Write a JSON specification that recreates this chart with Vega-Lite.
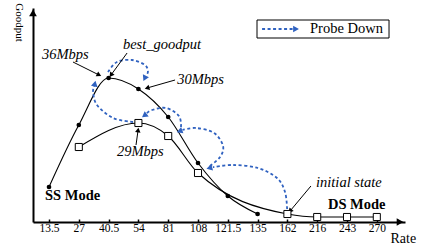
{
  "$schema": "https://vega.github.io/schema/vega-lite/v6.json",
  "width": 372,
  "height": 214,
  "autosize": {"type": "none"},
  "padding": {"left": 33, "top": 8, "right": 18, "bottom": 23},
  "background": "white",
  "config": {"view": {"stroke": null}, "font": "Liberation Serif, Times New Roman, serif"},
  "datasets": {
    "goodput": [
      {"mode": "SS", "pos": 0, "rate": "13.5", "goodput": 8.75},
      {"mode": "SS", "pos": 1, "rate": "27", "goodput": 24.25},
      {"mode": "SS", "pos": 2, "rate": "40.5", "goodput": 36},
      {"mode": "SS", "pos": 3, "rate": "54", "goodput": 33.25},
      {"mode": "SS", "pos": 4, "rate": "81", "goodput": 26.25},
      {"mode": "SS", "pos": 5, "rate": "108", "goodput": 14.75},
      {"mode": "SS", "pos": 6, "rate": "121.5", "goodput": 6.5},
      {"mode": "SS", "pos": 7, "rate": "135", "goodput": 2},
      {"mode": "DS", "pos": 1, "rate": "27", "goodput": 18.75},
      {"mode": "DS", "pos": 3, "rate": "54", "goodput": 24.75},
      {"mode": "DS", "pos": 4, "rate": "81", "goodput": 21.5},
      {"mode": "DS", "pos": 5, "rate": "108", "goodput": 12.25},
      {"mode": "DS", "pos": 8, "rate": "162", "goodput": 2},
      {"mode": "DS", "pos": 9, "rate": "216", "goodput": 1.25},
      {"mode": "DS", "pos": 10, "rate": "243", "goodput": 1.25},
      {"mode": "DS", "pos": 11, "rate": "270", "goodput": 1.25}
    ],
    "probe": [
      {"arc": "A", "seq": 0, "pos": 1.98, "goodput": 37.5},
      {"arc": "A", "seq": 1, "pos": 2.28, "goodput": 40},
      {"arc": "A", "seq": 2, "pos": 2.785, "goodput": 40.5},
      {"arc": "A", "seq": 3, "pos": 3.22, "goodput": 39.25},
      {"arc": "A", "seq": 4, "pos": 3.32, "goodput": 37.6},
      {"arc": "A", "seq": 5, "pos": 3.25, "goodput": 36.6},
      {"arc": "B", "seq": 0, "pos": 2.82, "goodput": 25},
      {"arc": "B", "seq": 1, "pos": 2.15, "goodput": 26},
      {"arc": "B", "seq": 2, "pos": 1.61, "goodput": 29.25},
      {"arc": "B", "seq": 3, "pos": 1.48, "goodput": 32.5},
      {"arc": "B", "seq": 4, "pos": 1.52, "goodput": 34},
      {"arc": "C", "seq": 0, "pos": 4.43, "goodput": 23.75},
      {"arc": "C", "seq": 1, "pos": 4.36, "goodput": 26.5},
      {"arc": "C", "seq": 2, "pos": 3.93, "goodput": 28.5},
      {"arc": "C", "seq": 3, "pos": 3.46, "goodput": 28},
      {"arc": "C", "seq": 4, "pos": 3.27, "goodput": 27.1},
      {"arc": "D", "seq": 0, "pos": 5.4, "goodput": 14},
      {"arc": "D", "seq": 1, "pos": 5.74, "goodput": 16.25},
      {"arc": "D", "seq": 2, "pos": 5.84, "goodput": 19},
      {"arc": "D", "seq": 3, "pos": 5.54, "goodput": 22.25},
      {"arc": "D", "seq": 4, "pos": 4.93, "goodput": 23.5},
      {"arc": "D", "seq": 5, "pos": 4.48, "goodput": 23},
      {"arc": "E", "seq": 0, "pos": 7.99, "goodput": 3.25},
      {"arc": "E", "seq": 1, "pos": 7.92, "goodput": 7.5},
      {"arc": "E", "seq": 2, "pos": 7.65, "goodput": 11},
      {"arc": "E", "seq": 3, "pos": 7.01, "goodput": 13.5},
      {"arc": "E", "seq": 4, "pos": 6.17, "goodput": 14.25},
      {"arc": "E", "seq": 5, "pos": 5.5, "goodput": 13.7},
      {"arc": "legend", "seq": 0, "pos": 7.15, "goodput": 48.25},
      {"arc": "legend", "seq": 1, "pos": 8.19, "goodput": 48.25}
    ],
    "probeHeads": [
      {"arc": "A", "pos": 3.21, "goodput": 35.9, "angle": 205},
      {"arc": "B", "pos": 1.54, "goodput": 34.6, "angle": 12},
      {"arc": "C", "pos": 3.2, "goodput": 26.6, "angle": 233},
      {"arc": "D", "pos": 4.38, "goodput": 22.7, "angle": 250},
      {"arc": "E", "pos": 5.38, "goodput": 13.5, "angle": 255},
      {"arc": "legend", "pos": 8.29, "goodput": 48.25, "angle": 90}
    ],
    "pointers": [
      {"label": "36Mbps", "pos": 0.805, "goodput": 40, "pos2": 1.68, "goodput2": 36.75, "angle": 117},
      {"label": "best_goodput", "pos": 2.62, "goodput": 42.25, "pos2": 2.08, "goodput2": 36.75, "angle": 216},
      {"label": "30Mbps", "pos": 4.23, "goodput": 35.5, "pos2": 3.29, "goodput2": 33.5, "angle": 254},
      {"label": "29Mbps", "pos": 2.92, "goodput": 19.25, "pos2": 2.99, "goodput2": 23, "angle": 8},
      {"label": "initial state", "pos": 8.79, "goodput": 9, "pos2": 8.09, "goodput2": 2.75, "angle": 220}
    ],
    "notes": [
      {"kind": "note", "text": "36Mbps", "pos": -0.235, "goodput": 41.75},
      {"kind": "note", "text": "best_goodput", "pos": 2.48, "goodput": 44.25},
      {"kind": "note", "text": "30Mbps", "pos": 4.3, "goodput": 35.5},
      {"kind": "note", "text": "29Mbps", "pos": 2.28, "goodput": 17.5},
      {"kind": "note", "text": "initial state", "pos": 8.96, "goodput": 9.75},
      {"kind": "mode", "text": "SS Mode", "pos": -0.134, "goodput": 6.5},
      {"kind": "mode", "text": "DS Mode", "pos": 9.36, "goodput": 4.25},
      {"kind": "legend", "text": "Probe Down", "pos": 8.76, "goodput": 48.25}
    ],
    "legendBox": [
      {"pos": 6.98, "pos2": 11.41, "goodput": 46, "goodput2": 50.5}
    ],
    "axisHeads": [
      {"axis": "y", "pos": -0.537, "goodput": 52.3, "angle": 0},
      {"axis": "x", "pos": 11.78, "goodput": 0, "angle": 90}
    ]
  },
  "encoding": {
    "x": {
      "field": "pos",
      "type": "quantitative",
      "scale": {"domain": [-0.537, 11.946], "nice": false, "zero": false},
      "axis": {
        "title": "Rate",
        "titleX": 357,
        "titleY": 20,
        "titleAlign": "left",
        "titleBaseline": "alphabetic",
        "titleFont": "Liberation Serif, Times New Roman, serif",
        "titleFontSize": 14,
        "titleFontWeight": "normal",
        "titleColor": "black",
        "values": [0, 1, 2, 3, 4, 5, 6, 7, 8, 9, 10, 11],
        "labelExpr": "['13.5','27','40.5','54','81','108','121.5','135','162','216','243','270'][datum.value]",
        "labelFont": "Liberation Serif, Times New Roman, serif",
        "labelFontSize": 11.5,
        "labelColor": "black",
        "labelPadding": 3,
        "labelFlush": false,
        "labelOverlap": false,
        "tickSize": -3,
        "tickColor": "black",
        "tickWidth": 1.5,
        "domainColor": "black",
        "domainWidth": 2,
        "grid": false
      }
    },
    "y": {
      "field": "goodput",
      "type": "quantitative",
      "scale": {"domain": [0, 53.5], "nice": false, "zero": false},
      "axis": {
        "title": "Goodput",
        "titleAngle": 90,
        "titleX": -15,
        "titleY": 14,
        "titleAlign": "center",
        "titleBaseline": "middle",
        "titleFont": "Liberation Serif, Times New Roman, serif",
        "titleFontSize": 11,
        "titleFontWeight": "normal",
        "titleColor": "black",
        "labels": false,
        "ticks": false,
        "grid": false,
        "domainColor": "black",
        "domainWidth": 2
      }
    }
  },
  "layer": [
    {
      "data": {"name": "legendBox"},
      "mark": {"type": "rect", "fill": "white", "stroke": "black", "strokeWidth": 1},
      "encoding": {"x2": {"field": "pos2"}, "y2": {"field": "goodput2"}}
    },
    {
      "data": {"name": "goodput"},
      "mark": {"type": "line", "interpolate": "monotone", "color": "black", "strokeWidth": 1.1},
      "encoding": {"detail": {"field": "mode"}}
    },
    {
      "data": {"name": "probe"},
      "mark": {"type": "line", "interpolate": "cardinal", "color": "#3062c0", "strokeWidth": 1.8, "strokeDash": [3, 2.5]},
      "encoding": {"detail": {"field": "arc"}, "order": {"field": "seq", "type": "quantitative"}}
    },
    {
      "data": {"name": "probeHeads"},
      "mark": {"type": "point", "shape": "triangle-up", "filled": true, "color": "#3062c0", "size": 45, "opacity": 1},
      "encoding": {"angle": {"field": "angle", "type": "quantitative", "scale": null}}
    },
    {
      "data": {"name": "pointers"},
      "mark": {"type": "rule", "color": "black", "strokeWidth": 1},
      "encoding": {"x2": {"field": "pos2"}, "y2": {"field": "goodput2"}}
    },
    {
      "data": {"name": "pointers"},
      "mark": {"type": "point", "shape": "triangle-up", "filled": true, "color": "black", "size": 30, "opacity": 1},
      "encoding": {
        "x": {"field": "pos2", "type": "quantitative"},
        "y": {"field": "goodput2", "type": "quantitative"},
        "angle": {"field": "angle", "type": "quantitative", "scale": null}
      }
    },
    {
      "data": {"name": "goodput"},
      "transform": [{"filter": "datum.mode === 'SS'"}],
      "mark": {"type": "point", "shape": "circle", "filled": true, "color": "black", "size": 22, "opacity": 1}
    },
    {
      "data": {"name": "goodput"},
      "transform": [{"filter": "datum.mode === 'DS'"}],
      "mark": {"type": "point", "shape": "square", "filled": false, "fill": "white", "stroke": "black", "strokeWidth": 1, "size": 50, "opacity": 1}
    },
    {
      "data": {"name": "notes"},
      "transform": [{"filter": "datum.kind === 'note'"}],
      "mark": {"type": "text", "align": "left", "baseline": "middle", "font": "Liberation Serif, Times New Roman, serif", "fontStyle": "italic", "fontSize": 14.5, "color": "black"},
      "encoding": {"text": {"field": "text"}}
    },
    {
      "data": {"name": "notes"},
      "transform": [{"filter": "datum.kind === 'mode'"}],
      "mark": {"type": "text", "align": "left", "baseline": "middle", "font": "Liberation Serif, Times New Roman, serif", "fontWeight": "bold", "fontSize": 14.5, "color": "black"},
      "encoding": {"text": {"field": "text"}}
    },
    {
      "data": {"name": "notes"},
      "transform": [{"filter": "datum.kind === 'legend'"}],
      "mark": {"type": "text", "align": "left", "baseline": "middle", "font": "Liberation Serif, Times New Roman, serif", "fontSize": 14.5, "color": "black"},
      "encoding": {"text": {"field": "text"}}
    },
    {
      "data": {"name": "axisHeads"},
      "mark": {"type": "point", "shape": "triangle-up", "filled": true, "color": "black", "size": 60, "opacity": 1},
      "encoding": {"angle": {"field": "angle", "type": "quantitative", "scale": null}}
    }
  ]
}
